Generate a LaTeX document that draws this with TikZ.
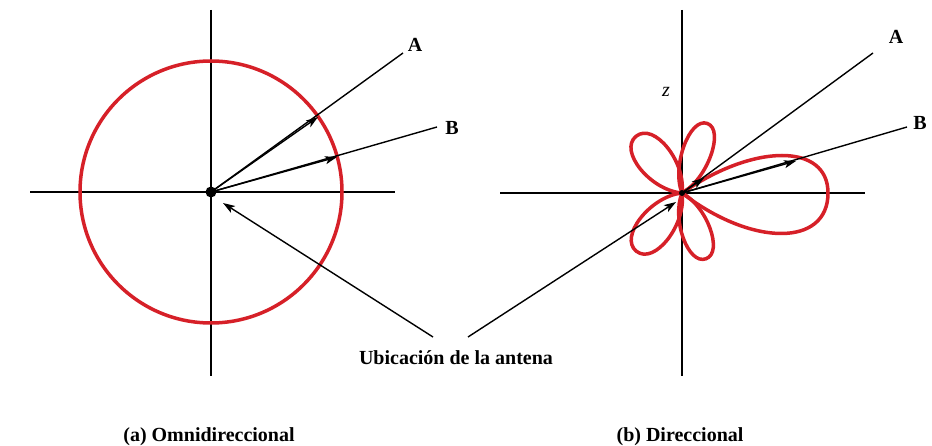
\documentclass[tikz,border=0pt]{standalone}
\usepackage{fontspec}
\setmainfont{Liberation Serif}
\usetikzlibrary{arrows.meta}
\definecolor{lobered}{RGB}{214,32,40}
\begin{document}
\begin{tikzpicture}[x=1pt,y=-1pt,
  axis/.style={line width=2.4pt,black},
  ray/.style={line width=1.4pt,black},
  rayarrow/.style={line width=1.4pt,black,-{Stealth[length=12pt,width=8pt,inset=3pt]}},
  lobe/.style={line width=3.5pt,lobered,line join=round},
  lbl/.style={font=\bfseries\fontsize{20}{24}\selectfont,inner sep=0pt,anchor=base},
  captext/.style={font=\bfseries\fontsize{20}{24}\selectfont,inner sep=0pt,anchor=base}]
\useasboundingbox (0,0) rectangle (932,446);
% ---------- (a) ----------
\coordinate (O1) at (211,192);
\draw[axis] (211,10) -- (211,376);
\draw[axis] (30,192) -- (395,192);
\draw[lobe] (O1) circle[radius=131];
\coordinate (A1end) at (403,53);
\coordinate (A1tip) at (318,117);
\coordinate (B1end) at (437,127);
\coordinate (B1tip) at (337,157);
\draw[ray] (O1) -- (A1end);
\draw[rayarrow] (O1) -- (A1tip);
\draw[ray] (O1) -- (B1end);
\draw[rayarrow] (O1) -- (B1tip);
\node[lbl] (A1) at (415,52) {A};
\node[lbl] (B1) at (452,135) {B};
\fill (O1) circle[radius=5.5];
% ---------- (b) ----------
\coordinate (O2) at (682,193);
\draw[axis] (682,10) -- (682,376);
\draw[axis] (500,193) -- (865,193);
\node[font=\itshape\fontsize{20}{24}\selectfont,inner sep=0pt,anchor=base] (z) at (666,97) {z};
% main lobe
\begin{scope}[shift={(O2)}]
\draw[lobe] (0,0) .. controls (70,54) and (146,54) .. (146,0) .. controls (146,-50) and (72,-50) .. (0,0);
\end{scope}
% small lobes
\begin{scope}[shift={(O2)},rotate=129]
\draw[lobe] (0,0) .. controls (22,23) and (73,23) .. (73,0) .. controls (73,-23) and (22,-23) .. (0,0);
\end{scope}
\begin{scope}[shift={(O2)},rotate=70]
\draw[lobe] (0,0) .. controls (21,19) and (74,19) .. (74,0) .. controls (74,-19) and (21,-19) .. (0,0);
\end{scope}
\begin{scope}[shift={(O2)},rotate=232]
\draw[lobe] (0,0) .. controls (22,23) and (74,23) .. (74,0) .. controls (74,-23) and (22,-23) .. (0,0);
\end{scope}
\begin{scope}[shift={(O2)},rotate=290]
\draw[lobe] (0,0) .. controls (21,19) and (70,19) .. (70,0) .. controls (70,-19) and (21,-19) .. (0,0);
\end{scope}
\coordinate (A2end) at (873,53);
\coordinate (A2tip) at (704,178);
\coordinate (B2end) at (907,127);
\coordinate (B2tip) at (796,161);
\draw[ray] (O2) -- (A2end);
\draw[rayarrow] (O2) -- (A2tip);
\draw[ray] (O2) -- (B2end);
\draw[rayarrow] (O2) -- (B2tip);
\node[lbl] (A2) at (896,44) {A};
\node[lbl] (B2) at (920,130) {B};
\fill[black] (O2) circle[radius=3];
% ---------- antenna label ----------
\node[captext] (ant) at (456,365) {Ubicación de la antena};
\coordinate (L1) at (433,337);
\coordinate (L2) at (468,337);
\coordinate (T1) at (223,203);
\coordinate (T2) at (676,202);
\draw[rayarrow] (L1) -- (T1);
\draw[rayarrow] (L2) -- (T2);
% ---------- captions ----------
\node[captext] (capa) at (209,441) {(a) Omnidireccional};
\node[captext] (capb) at (680,441) {(b) Direccional};
\end{tikzpicture}
\end{document}
